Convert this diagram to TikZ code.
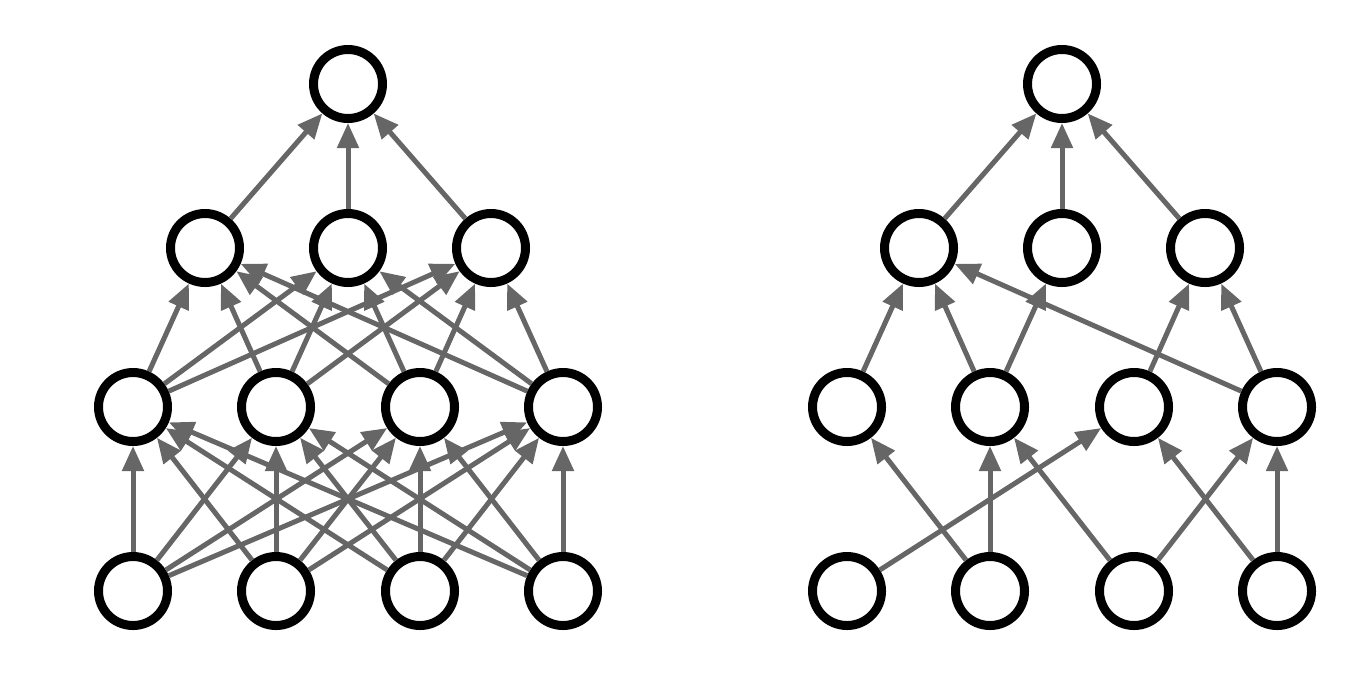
\documentclass[tikz,border=0pt]{standalone}
\usetikzlibrary{arrows.meta}
\definecolor{edgegray}{RGB}{102,102,102}

\begin{document}
\begin{tikzpicture}[
  neuron/.style={circle,draw=black,line width=0.09cm,fill=white,minimum size=0.69cm,inner sep=0pt},
  syn/.style={draw=edgegray,line width=0.05cm,-{Triangle[length=0.25cm,width=0.21cm]}}]
  \useasboundingbox (0,0) rectangle (13.55,6.83);
  % standard net
  \node [neuron] (in1) at (1.33,0.92) {};
  \node [neuron] (in2) at (2.76,0.92) {};
  \node [neuron] (in3) at (4.20,0.92) {};
  \node [neuron] (in4) at (5.63,0.92) {};
  \node [neuron] (hid1) at (1.33,2.76) {};
  \node [neuron] (hid2) at (2.76,2.76) {};
  \node [neuron] (hid3) at (4.20,2.76) {};
  \node [neuron] (hid4) at (5.63,2.76) {};
  \node [neuron] (top1) at (2.05,4.35) {};
  \node [neuron] (top2) at (3.48,4.35) {};
  \node [neuron] (top3) at (4.91,4.35) {};
  \node [neuron] (out) at (3.48,5.99) {};
  \draw [syn] (in1)--(hid1);
  \draw [syn] (in1)--(hid2);
  \draw [syn] (in1)--(hid3);
  \draw [syn] (in1)--(hid4);
  \draw [syn] (in2)--(hid1);
  \draw [syn] (in2)--(hid2);
  \draw [syn] (in2)--(hid3);
  \draw [syn] (in2)--(hid4);
  \draw [syn] (in3)--(hid1);
  \draw [syn] (in3)--(hid2);
  \draw [syn] (in3)--(hid3);
  \draw [syn] (in3)--(hid4);
  \draw [syn] (in4)--(hid1);
  \draw [syn] (in4)--(hid2);
  \draw [syn] (in4)--(hid3);
  \draw [syn] (in4)--(hid4);
  \draw [syn] (hid1)--(top1);
  \draw [syn] (hid1)--(top2);
  \draw [syn] (hid1)--(top3);
  \draw [syn] (hid2)--(top1);
  \draw [syn] (hid2)--(top2);
  \draw [syn] (hid2)--(top3);
  \draw [syn] (hid3)--(top1);
  \draw [syn] (hid3)--(top2);
  \draw [syn] (hid3)--(top3);
  \draw [syn] (hid4)--(top1);
  \draw [syn] (hid4)--(top2);
  \draw [syn] (hid4)--(top3);
  \draw [syn] (top1)--(out);
  \draw [syn] (top2)--(out);
  \draw [syn] (top3)--(out);
  % thinned net
  \node [neuron] (din1) at (8.47,0.92) {};
  \node [neuron] (din2) at (9.90,0.92) {};
  \node [neuron] (din3) at (11.34,0.92) {};
  \node [neuron] (din4) at (12.77,0.92) {};
  \node [neuron] (dhid1) at (8.47,2.76) {};
  \node [neuron] (dhid2) at (9.90,2.76) {};
  \node [neuron] (dhid3) at (11.34,2.76) {};
  \node [neuron] (dhid4) at (12.77,2.76) {};
  \node [neuron] (dtop1) at (9.19,4.35) {};
  \node [neuron] (dtop2) at (10.62,4.35) {};
  \node [neuron] (dtop3) at (12.05,4.35) {};
  \node [neuron] (dout) at (10.62,5.99) {};
  \draw [syn] (din1)--(dhid3);
  \draw [syn] (din2)--(dhid1);
  \draw [syn] (din2)--(dhid2);
  \draw [syn] (din3)--(dhid2);
  \draw [syn] (din3)--(dhid4);
  \draw [syn] (din4)--(dhid3);
  \draw [syn] (din4)--(dhid4);
  \draw [syn] (dhid1)--(dtop1);
  \draw [syn] (dhid2)--(dtop1);
  \draw [syn] (dhid2)--(dtop2);
  \draw [syn] (dhid3)--(dtop3);
  \draw [syn] (dhid4)--(dtop1);
  \draw [syn] (dhid4)--(dtop3);
  \draw [syn] (dtop1)--(dout);
  \draw [syn] (dtop2)--(dout);
  \draw [syn] (dtop3)--(dout);
\end{tikzpicture}
\end{document}
